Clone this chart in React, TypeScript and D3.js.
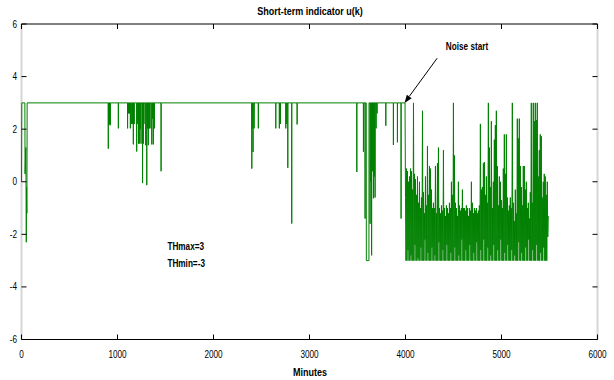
import React from 'react';
import * as d3 from 'd3';

const W = 614;
const H = 380;

const xTicks = [0, 1000, 2000, 3000, 4000, 5000, 6000];
const yTicks = [-6, -4, -2, 0, 2, 4, 6];
const TH_MAX = 3;
const TH_MIN = -3;

// Start-up transient of u(k): [minute, value]
const startup: [number, number][] = [
  [0, 0], [3, 3], [35, 3], [37, 0.3], [45, 1.3], [50, -2.3], [53, -0.2], [56, -1.2], [59, 3],
];

// Short drops below THmax before the noise: [minute, value, minutes held]
const dips: [number, number, number][] = [
  [904, 1.26, 0], [910, 2.15, 0], [917, 2.2, 0], [925, 2.15, 0],
  [1009, 2.03, 0],
  [1105, 2.03, 0], [1115, 2.6, 0], [1125, 2.6, 0], [1134, 2.03, 0],
  [1148, 2.2, 0], [1157, 2.2, 0], [1165, 1.42, 0], [1174, 2.2, 0],
  [1200, 1.15, 0], [1211, 2.2, 0], [1219, 1.45, 0], [1227, 1.45, 0], [1237, 2.0, 0],
  [1245, 1.45, 0], [1261, -0.05, 0], [1269, 1.45, 0], [1276, 2.2, 0],
  [1294, 1.39, 0], [1305, -0.13, 0], [1313, 2.03, 0], [1321, 1.39, 0], [1331, 2.03, 0],
  [1339, 2.03, 0], [1357, 1.42, 0], [1365, 2.4, 0], [1373, 1.42, 0], [1384, 2.03, 0],
  [1454, 0.4, 0],
  [2399, 0.5, 0], [2405, 2.03, 0], [2412, 1.13, 0], [2423, 2.03, 0], [2467, 2.03, 0],
  [2649, 2.03, 0], [2686, 2.03, 0], [2697, 2.2, 0],
  [2753, 2.03, 0], [2763, 2.2, 0], [2774, 0.53, 0], [2815, -1.59, 0], [2871, 2.18, 0],
  [3493, 0.37, 0], [3562, 1.14, 0], [3579, -1.4, 0], [3592, -3, 27],
  [3631, -1.6, 0], [3639, 0.0, 0], [3647, -2.8, 0], [3655, 0.4, 0], [3666, -0.63, 0],
  [3676, 0.2, 0], [3683, -0.6, 0], [3694, 2.03, 0], [3704, 2.6, 0],
  [3795, 2.13, 0], [3874, 1.4, 0], [3916, 1.5, 0], [3954, -1.4, 0],
];

// Noisy section, one sample every noiseStep minutes from noiseStart
const noiseStart = 4000;
const noiseStep = 5.2;
const noise: number[] = [
  -0.6, -3, 0.5, -3, 0.4, -2.6, 0.0, -3, 0.2, -3, 0.5, -2.8, 0.4, -3, -0.3, -3,
  3.0, -3, 0.3, -2.4, 0.1, -3, -0.5, -3, 0.2, -2.9, -0.8, -3, 0.0, -3, -1.0, -2.5,
  -0.6, -3, 2.7, -3, -0.4, -3, -1.2, -2.2, 0.2, -3, -0.9, -3, 1.35, -2.7, -0.5, -3,
  0.6, -3, 0.5, -3, -0.3, -2.5, -1.0, -3, -0.8, -3, -1.0, -2.8, 0.6, -3, -1.2, -3,
  0.7, -3, 1.3, -2.3, -1.0, -3, -1.2, -3, -0.9, -3, -1.1, -2.6, 1.2, -3, -1.0, -3,
  -1.3, -3, -0.9, -2.4, -1.0, -3, -1.2, -3, -0.8, -3, -1.0, -2.7, 0.0, -3, -0.5, -3,
  3.0, -3, 1.0, -2.5, -0.8, -3, -1.0, -3, -1.3, -3, 0.0, -2.8, -0.9, -3, -1.1, -3,
  -1.0, -2.2, -0.3, -3, -1.0, -3, -1.0, -3, -1.1, -2.6, -0.9, -3, -1.0, -3, -1.3, -3,
  -1.0, -2.4, -1.1, -3, 0.0, -3, -0.8, -3, -1.2, -2.7, -1.0, -3, -1.1, -3, -1.0, -2.3,
  -1.2, -3, -1.1, -3, -0.9, -3, 2.2, -2.6, -0.3, -3, -0.2, -3, 0.7, -2.2, 0.75, -3,
  -0.5, -3, 0.2, -3, -0.8, -2.5, 3.0, -3, 1.3, -3, -0.2, -2.8, 2.3, -3, -1.0, -3,
  0.0, -2.4, 1.6, -3, 2.15, -3, 2.7, -3, 0.6, -2.6, -0.9, -3, 0.2, -3, 0.0, -2.2,
  -0.7, -3, -1.0, -3, 0.5, -3, 1.8, -2.7, 0.3, -3, 1.8, -3, -0.6, -2.4, -1.1, -3,
  -0.9, -3, -0.6, -3, -1.0, -2.6, 3.0, -3, -0.8, -3, -1.5, -2.8, -0.3, -3, -1.2, -3,
  2.4, -3, 1.65, -2.3, 2.4, -3, 0.6, -3, -0.2, -2.7, -0.9, -3, 0.6, -3, 0.6, -3,
  -0.3, -2.5, 0.0, -3, -1.0, -3, -0.8, -2.2, -1.4, -3, -0.4, -3, 3.0, -3, -0.8, -2.6,
  3.0, -3, 2.3, -3, 3.0, -3, 2.35, -2.4, 3.0, -3, 0.2, -3, 1.2, -3, 1.8, -2.7,
  1.73, -3, -0.6, -3, 0.0, -2.5, 0.3, -3, 0.2, -3, -0.5, -3, 0.0, -2.1, -1.3,
];

function buildTrace(): [number, number][] {
  const pts: [number, number][] = [...startup];
  for (const [m, v, hold] of dips) {
    pts.push([m - 1, TH_MAX], [m, v]);
    if (hold > 0) pts.push([m + hold, v]);
    pts.push([m + hold + 1, TH_MAX]);
  }
  pts.push([noiseStart - 5, TH_MAX]);
  noise.forEach((v, i) => pts.push([noiseStart + i * noiseStep, v]));
  return pts;
}

const FONT = "'Liberation Sans', Arial, sans-serif";

function Label(props: {
  x: number; y: number; text: string; anchor?: 'start' | 'middle' | 'end';
  size?: number; weight?: string | number; sx?: number;
}) {
  const { x, y, text, anchor = 'middle', size = 10, weight = 'normal', sx = 0.82 } = props;
  return (
    <text
      transform={`translate(${x},${y}) scale(${sx},1)`}
      textAnchor={anchor}
      fontFamily={FONT}
      fontSize={size}
      fontWeight={weight}
      fill="#000"
    >
      {text}
    </text>
  );
}

export default function App() {
  const x = d3.scaleLinear().domain([0, 6000]).range([21.5, 597.5]);
  const y = d3.scaleLinear().domain([-6, 6]).range([339.5, 24]);
  const trace = buildTrace();
  const line = d3.line<[number, number]>().x((d) => x(d[0])).y((d) => y(d[1]));

  const left = x(0), right = x(6000), top = y(6), bottom = y(-6);
  const tick = 5;

  // Annotation arrow: from below the text down to the noise onset on THmax
  const headX = x(3990), headY = y(TH_MAX);
  const tailX = x(4330), tailY = y(4.7);
  const ang = Math.atan2(headY - tailY, headX - tailX);
  const ah = 8, aw = 3;
  const bx = headX - ah * Math.cos(ang), by = headY - ah * Math.sin(ang);
  const arrowHead = [
    [headX, headY],
    [bx + aw * Math.sin(ang), by - aw * Math.cos(ang)],
    [bx - aw * Math.sin(ang), by + aw * Math.cos(ang)],
  ].map((p) => p.join(',')).join(' ');

  return (
    <svg width={W} height={H} style={{ position: 'absolute', left: 0, top: 0, background: '#fff' }}>
      <rect x={0} y={0} width={W} height={H} fill="#fff" />

      {/* side frame lines */}
      <line x1={left} x2={left} y1={top} y2={bottom} stroke="#d6d6d6" strokeWidth={2} />
      <line x1={right} x2={right} y1={top} y2={bottom} stroke="#d6d6d6" strokeWidth={2} />

      {/* signal */}
      <path d={line(trace) ?? ''} fill="none" stroke="#008000" strokeWidth={1} />

      {/* top and bottom frame */}
      <line x1={left} x2={right} y1={top} y2={top} stroke="#000" strokeWidth={1} />
      <line x1={left} x2={right} y1={bottom} y2={bottom} stroke="#000" strokeWidth={1} />

      {xTicks.map((t) => (
        <g key={`xt${t}`}>
          <line x1={x(t)} x2={x(t)} y1={bottom} y2={bottom - tick} stroke="#000" />
          <line x1={x(t)} x2={x(t)} y1={top} y2={top + tick} stroke="#000" />
          <Label x={x(t)} y={357.5} text={String(t)} />
        </g>
      ))}
      {yTicks.map((t) => (
        <g key={`yt${t}`}>
          <line x1={left} x2={left + tick} y1={y(t)} y2={y(t)} stroke="#000" />
          <line x1={right} x2={right - tick} y1={y(t)} y2={y(t)} stroke="#000" />
          <Label x={17} y={y(t) + 3.5} text={String(t)} anchor="end" />
        </g>
      ))}

      <Label x={310} y={15} text="Short-term indicator u(k)" size={11} weight="bold" />
      <Label x={310} y={376} text="Minutes" size={11} weight="bold" />

      <Label x={x(4420)} y={y(5.0)} text="Noise start" anchor="start" size={10} weight="bold" />
      <line x1={tailX} y1={tailY} x2={bx} y2={by} stroke="#000" strokeWidth={1} />
      <polygon points={arrowHead} fill="#000" />

      <Label x={x(1520)} y={y(-2.6)} text={`THmax=${TH_MAX}`} anchor="start" size={10} weight="bold" />
      <Label x={x(1520)} y={y(-3.25)} text={`THmin=${TH_MIN}`} anchor="start" size={10} weight="bold" />
    </svg>
  );
}
